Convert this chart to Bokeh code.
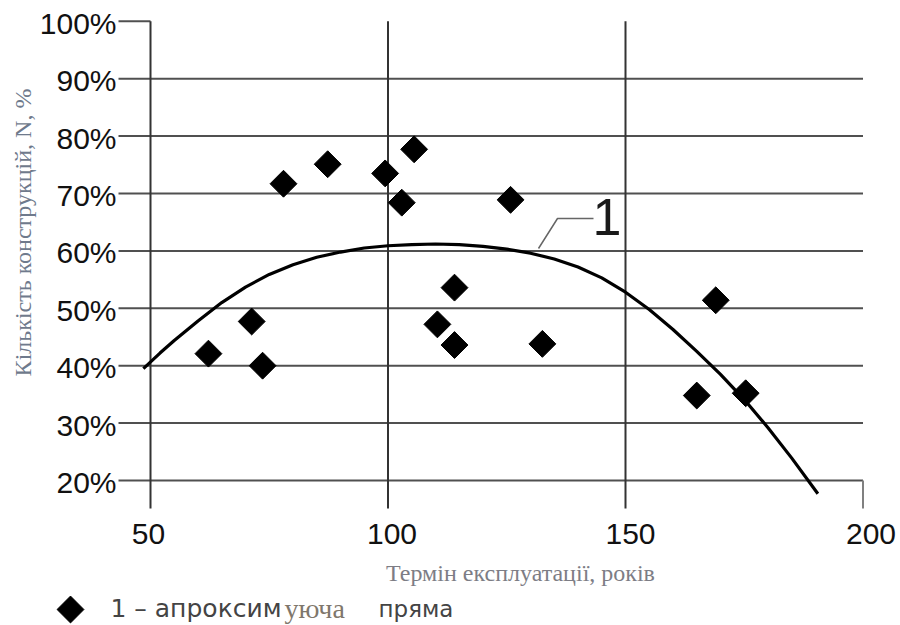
import numpy as np
from bokeh.plotting import figure
from bokeh.models import Range1d
from bokeh.core.properties import value
from bokeh.embed import file_html
from bokeh.resources import INLINE

# ---------------- data ----------------
x_ticks = [50, 100, 150, 200]
x_tick_labels = ["50", "100", "150", "200"]
y_ticks = [20, 30, 40, 50, 60, 70, 80, 90, 100]
y_tick_labels = ["20%", "30%", "40%", "50%", "60%", "70%", "80%", "90%", "100%"]

years = [62.2, 71.3, 73.6, 78.0, 87.3, 99.4, 102.9, 105.5, 110.4, 114.0, 114.0, 125.8, 132.5, 165.0, 169.0, 175.3]
shares = [42.1, 47.7, 40.0, 71.7, 75.1, 73.5, 68.4, 77.7, 47.2, 43.6, 53.6, 68.9, 43.8, 34.8, 51.4, 35.2]

curve_x = [48.5, 52, 55, 60, 65, 70, 75, 80, 85, 90, 95, 100, 105, 110, 115, 120, 125, 130,
           135, 140, 145, 150, 155, 160, 165, 170, 175, 180, 185, 190.5]
curve_y = [39.5, 42.2, 44.4, 47.8, 51.0, 53.7, 55.9, 57.6, 58.9, 59.8, 60.5, 60.9, 61.1, 61.2, 61.1, 60.8,
           60.3, 59.6, 58.6, 57.2, 55.3, 52.8, 49.8, 46.3, 42.5, 38.5, 34.1, 29.2, 23.9, 17.7]

x_title = "Термін експлуатації, років"
y_title = "Кількість конструкцій, N, %"
curve_label = "1"
legend_parts = ["1 – апроксим", "уюча", "пряма"]

# ---------------- layout helpers (canvas px -> data) ----------------
W, H = 900, 625
PX50, PPX = 150.0, 4.75     # canvas x of x=50, px per year
PY20, PPY = 480.0, 5.74     # canvas y of 20 %, px per percent


def xd(cx):
    return 50 + (cx - PX50) / PPX


def yd(cy):
    return 20 + (PY20 - cy) / PPY


p = figure(width=W, height=H, x_range=Range1d(xd(0), xd(W)), y_range=Range1d(yd(H), yd(0)),
           x_axis_location=None, y_axis_location=None, toolbar_location=None,
           output_backend="svg", min_border=0, outline_line_color=None)
for g in p.grid:
    g.visible = False
p.background_fill_color = "white"
p.border_fill_color = "white"

grid_col = "#505050"
# horizontal grid lines (start left of the axis, like the tick marks)
hx0 = [xd(118)] * len(y_ticks)
hx1 = [200 if v < 100 else 50 for v in y_ticks]
p.segment(x0=hx0, y0=y_ticks, x1=hx1, y1=y_ticks, line_color=grid_col, line_width=2)
# vertical grid lines
vy0 = [yd(508)] * len(x_ticks)
vy1 = [100 if v < 200 else 20 for v in x_ticks]
vcols = ["#333333", "#333333", "#333333", "#808080"]
p.segment(x0=x_ticks, y0=vy0, x1=x_ticks, y1=vy1, line_color=vcols, line_width=2)

# approximating curve
p.line(curve_x, curve_y, line_color="black", line_width=3.2, line_join="round")

# data points
p.scatter(years, shares, marker="square", angle=np.pi / 4, size=19, color="black")

# leader line to label "1"
p.line([xd(538), xd(557), xd(593)], [yd(248), yd(218), yd(218)], line_color="#666666", line_width=1.5)
p.text(x=[xd(592)], y=[yd(216)], text=[curve_label], text_font=value("Liberation Sans"),
       text_font_size="52px", text_align="left", text_baseline="middle", text_color="#1a1a1a")

# tick labels
p.text(x=[xd(116)] * len(y_ticks), y=y_ticks, text=y_tick_labels, text_font=value("Liberation Sans"),
       text_font_size="30px", text_align="right", text_baseline="middle", y_offset=2, text_color="#111111")
p.text(x=x_ticks, y=[yd(533)] * len(x_ticks), text=x_tick_labels, text_font=value("Liberation Sans"),
       text_font_size="30px", text_align="center", text_baseline="middle", x_offset=[-2, 4, 5, 8],
       text_color="#111111")

# axis titles
p.text(x=[xd(520)], y=[yd(572)], text=[x_title], text_font=value("Liberation Serif"),
       text_font_size="24px", text_align="center", text_baseline="middle", text_color="#7d7d85")
p.text(x=[xd(22)], y=[yd(232)], text=[y_title], text_font=value("Liberation Serif"),
       text_font_size="24px", text_align="center", text_baseline="middle", angle=np.pi / 2,
       text_color="#6f7a8c")

# legend
p.scatter([xd(70)], [yd(609)], marker="square", angle=np.pi / 4, size=19, color="black")
p.text(x=[xd(110)], y=[yd(608)], text=[legend_parts[0]], text_font=value("DejaVu Sans"),
       text_font_size="25px", text_align="left", text_baseline="middle", text_color="#444444")
p.text(x=[xd(284)], y=[yd(608)], text=[legend_parts[1]], text_font=value("Liberation Serif"),
       text_font_size="28px", text_align="left", text_baseline="middle", text_color="#7f776c")
p.text(x=[xd(378)], y=[yd(608)], text=[legend_parts[2]], text_font=value("DejaVu Sans"),
       text_font_size="23px", text_align="left", text_baseline="middle", text_color="#444444")

open("out.html", "w").write(file_html(p, INLINE))
